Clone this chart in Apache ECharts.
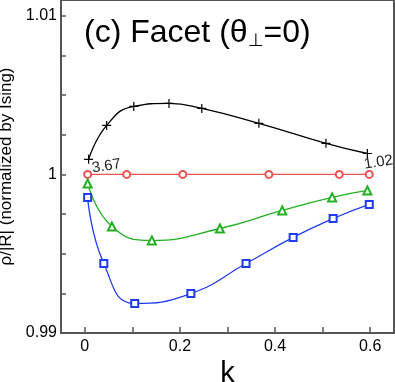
<!DOCTYPE html>
<html><head><meta charset="utf-8">
<script src="https://cdn.jsdelivr.net/npm/echarts@6/dist/echarts.min.js"></script>
<style>html,body{margin:0;padding:0;background:#fff}#c{width:395px;height:382px}</style>
</head><body><div id="c"></div>
<script>
// Data
const blackK = [0.008, 0.046, 0.103, 0.177, 0.246, 0.366, 0.507, 0.594];
const blackV = [1.00095, 1.00309, 1.00429, 1.00448, 1.00416, 1.00322, 1.00196, 1.00132];
const redK = [0.006, 0.088, 0.206, 0.387, 0.535, 0.598];
const redV = [1.0, 1.0, 1.0, 1.0, 1.0, 1.0];
const greenK = [0.006, 0.057, 0.141, 0.284, 0.415, 0.520, 0.594];
const greenV = [0.99943, 0.99672, 0.99584, 0.99659, 0.99773, 0.99855, 0.99899];
const blueK = [0.006, 0.040, 0.105, 0.223, 0.339, 0.438, 0.522, 0.598];
const blueV = [0.99855, 0.99438, 0.99186, 0.99249, 0.99438, 0.99603, 0.99722, 0.99811];
const endLabels = ['3.67', '1.02'];
const xTicks = [0, 0.1, 0.2, 0.3, 0.4, 0.5, 0.6];
const xLabels = [0, 0.2, 0.4, 0.6];
const yTicks = [0.99, 0.9925, 0.995, 0.9975, 1.0, 1.0025, 1.005, 1.0075, 1.01];
const yLabels = [0.99, 1.0, 1.01];
const titleText = '(c) Facet (θ{s|⊥}=0)';
const xName = 'k';
const yName = 'ρ/|R| (normalized by Ising)';

const zip = (a, b) => a.map((v, i) => [v, b[i]]);
const lbl = {show: true, position: 'right', rotate: 9, fontSize: 15, color: '#222', fontFamily: 'Liberation Sans'};
const blackData = zip(blackK, blackV).map((p, i, arr) => {
  if (i === 0) return {value: p, label: Object.assign({}, lbl, {formatter: endLabels[0], offset: [-8, 8]})};
  if (i === arr.length - 1) return {value: p, label: Object.assign({}, lbl, {formatter: endLabels[1], offset: [-15, 9]})};
  return p;
});

const chart = echarts.init(document.getElementById('c'), null, {renderer: 'canvas'});
const plus = 'path://M0,5L10,5M5,0L5,10';
chart.setOption({
  animation: false,
  backgroundColor: '#fff',
  textStyle: {fontFamily: 'Liberation Sans'},
  title: {
    text: titleText, left: 79, top: 11,
    textStyle: {fontSize: 32, fontWeight: 'normal', color: '#000', fontFamily: 'Liberation Sans',
      rich: {s: {fontSize: 18, verticalAlign: 'bottom', padding: [16, 0, 0, 0], color: '#000', fontFamily: 'Liberation Sans'}}}
  },
  grid: {left: 61, right: 1, top: 0, bottom: 49, outerBoundsMode: 'none', containLabel: false,
    show: true, borderColor: '#555', borderWidth: 2, backgroundColor: 'transparent'},
  xAxis: {
    type: 'value', min: -0.05, max: 0.65,
    name: xName, nameLocation: 'middle', nameGap: 22,
    nameTextStyle: {fontSize: 29, color: '#000', fontFamily: 'Liberation Sans'},
    axisLine: {show: true, onZero: false, lineStyle: {color: '#555', width: 2}},
    axisTick: {show: true, inside: true, length: 6, customValues: xTicks, lineStyle: {color: '#555', width: 1.5}},
    axisLabel: {customValues: xLabels, fontSize: 16, color: '#000', margin: 6, formatter: v => String(Math.round(v * 10) / 10)},
    splitLine: {show: false}
  },
  yAxis: {
    type: 'value', min: 0.99, max: 1.011,
    name: yName, nameLocation: 'middle', nameGap: 37, nameRotate: 90,
    nameTextStyle: {fontSize: 17, color: '#000', fontFamily: 'Liberation Sans'},
    axisLine: {show: true, onZero: false, lineStyle: {color: '#555', width: 2}},
    axisTick: {show: true, inside: true, length: 5, customValues: yTicks, lineStyle: {color: '#555', width: 1.5}},
    axisLabel: {customValues: yLabels, fontSize: 16, color: '#000', margin: 4,
      formatter: v => Math.abs(v - 1) < 1e-9 ? '1' : (Math.abs(v - 0.99) < 1e-9 ? '0.99' : '1.01')},
    splitLine: {show: false}
  },
  series: [
    {type: 'line', data: blackData, smooth: 0.5, symbol: plus, symbolSize: 9,
      lineStyle: {color: '#000', width: 1.3}, itemStyle: {color: '#000', borderColor: '#000', borderWidth: 1.2}},
    {type: 'line', data: zip(redK, redV), smooth: 0.5, symbol: 'emptyCircle', symbolSize: 7,
      lineStyle: {color: '#f05050', width: 1.3}, itemStyle: {color: '#f05050', borderWidth: 1.2}},
    {type: 'line', data: zip(greenK, greenV), smooth: 0.5, symbol: 'emptyTriangle', symbolSize: 8,
      lineStyle: {color: '#22b022', width: 1.3}, itemStyle: {color: '#22b022', borderWidth: 1.2}},
    {type: 'line', data: zip(blueK, blueV), smooth: 0.5, symbol: 'emptyRect', symbolSize: 7,
      lineStyle: {color: '#1f3cf0', width: 1.3}, itemStyle: {color: '#1f3cf0', borderWidth: 1.2}}
  ]
});
</script></body></html>
